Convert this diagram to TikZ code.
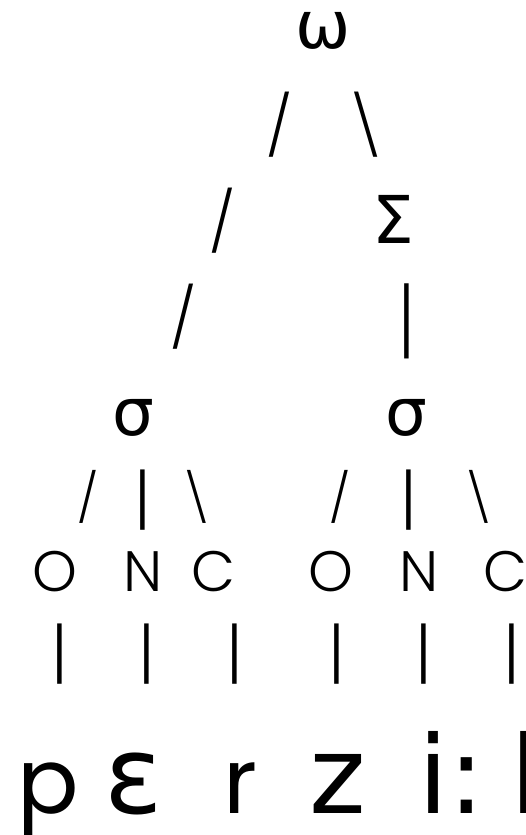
\documentclass[tikz,border=0pt]{standalone}
\usepackage{graphicx}
\usepackage{fontspec}
\setmainfont{Poppins Light}
\newfontfamily\regfont{Poppins}
\newfontfamily\greekfont{DejaVu Sans}
\newcommand{\tallbar}[1]{\scalebox{1}[#1]{\textbar}}

\begin{document}
\begin{tikzpicture}[x=1pt, y=-1pt,
  glyph/.style={inner sep=0pt, outer sep=0pt},
  slashU/.style={glyph, font=\fontsize{59}{59}\selectfont},
  slashL/.style={glyph, font=\fontsize{48}{48}\selectfont},
  barL/.style={glyph, font=\fontsize{64}{64}\selectfont},
  onc/.style={glyph, font=\fontsize{57}{57}\selectfont},
  greek/.style={glyph, font=\greekfont\fontsize{66}{66}\selectfont},
  phon/.style={glyph, anchor=base, font=\greekfont\fontsize{108}{108}\selectfont},
  latin/.style={glyph, anchor=base, font=\regfont\fontsize{91}{91}\selectfont}]
  \useasboundingbox (0,0) rectangle (526,835);

  % word and foot
  \node[greek] (word) at (323,31) {ω};
  \node[slashU] (wordL) at (280,125) {/};
  \node[slashU] (wordR) at (366,125) {\textbackslash};
  \node[slashU] (leftA) at (223,221) {/};
  \node[greek] (foot) at (393,219) {Σ};
  \node[slashU] (leftB) at (184,317) {/};
  \node[barL] (footBar) at (407,321) {\tallbar{1.32}};

  % syllables
  \node[greek] (sylA) at (133,418) {σ};
  \node[greek] (sylB) at (406,418) {σ};
  \node[slashL] (sylAL) at (88,497) {/};
  \node[barL] (sylAM) at (143,500) {\tallbar{1.06}};
  \node[slashL] (sylAR) at (197,497) {\textbackslash};
  \node[slashL] (sylBL) at (340,497) {/};
  \node[barL] (sylBM) at (409,500) {\tallbar{1.06}};
  \node[slashL] (sylBR) at (479,497) {\textbackslash};

  % onset, nucleus, coda
  \node[onc] (onsA) at (55,572) {O};
  \node[onc] (nucA) at (143,572) {N};
  \node[onc] (codA) at (213,572) {C};
  \node[onc] (onsB) at (331,572) {O};
  \node[onc] (nucB) at (419,572) {N};
  \node[onc] (codB) at (505,572) {C};
  \foreach \x/\n in {60/1,147/2,235/3,337/4,424/5,512/6}
    \node[barL] (seg\n) at (\x,654) {\tallbar{1.06}};

  % segments
  \node[latin] (p) at (48,813) {p};
  \node[phon] (eps) at (134,813) {ɛ};
  \node[latin] (r) at (240,813) {r};
  \node[phon] (z) at (338,813) {z};
  \node[phon] (ii) at (452,813) {i:};
  \node[phon, anchor=base west] (l) at (510,813) {l};
\end{tikzpicture}
\end{document}
